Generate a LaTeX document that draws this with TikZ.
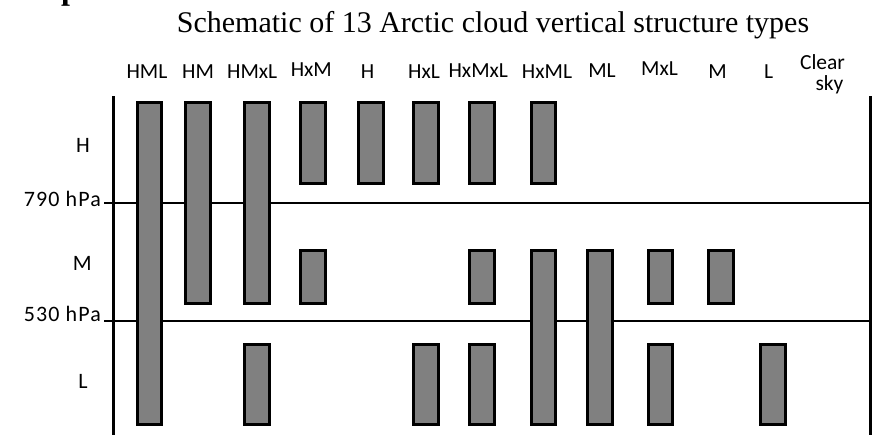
\documentclass[tikz,border=0pt]{standalone}
\usepackage{fontspec}
\setmainfont{Liberation Serif}
\newfontfamily\labelfont{Carlito}
\newfontfamily\levelfont[LetterSpace=5]{Carlito}
\definecolor{cloudgray}{HTML}{808080}

% one cloud layer: centre x, top y, bottom y
\newcommand\cloudbar[3]{\draw[cloud] ({#1-12.25},#2) rectangle ({#1+12.25},#3);}

\begin{document}
\begin{tikzpicture}[x=1pt,y=-1pt,
  cloud/.style={draw=black, line width=3pt, fill=cloudgray},
  axisline/.style={line width=3pt, line cap=rect},
  levelline/.style={line width=2.5pt},
  collabel/.style={font=\labelfont\fontsize{21.5}{21.5}\selectfont, anchor=base, inner sep=0pt},
  rowlabel/.style={font=\levelfont\fontsize{22}{22}\selectfont, inner sep=0pt},
  titletext/.style={font=\fontsize{30}{30}\selectfont, anchor=base, inner sep=0pt}]

\clip (0,0) rectangle (875,435);
\useasboundingbox (0,0) rectangle (875,435);

% panel letter, mostly above the page
\node[font=\bfseries\fontsize{32}{32}\selectfont, anchor=base west, inner sep=0pt] (panel) at (61,-0.5) {p};

% title
\node[titletext] (title) at (493,33) {Schematic of 13 Arctic cloud vertical structure types};

% column headings
\node[collabel] (tHML)   at (147,78.3)   {HML};
\node[collabel] (tHM)    at (198,78.3)   {HM};
\node[collabel] (tHMxL)  at (252.2,78.3) {HMxL};
\node[collabel] (tHxM)   at (311.3,76.7) {HxM};
\node[collabel] (tH)     at (367.5,78.3) {H};
\node[collabel] (tHxL)   at (424,79)     {HxL};
\node[collabel] (tHxMxL) at (478.3,77.7) {HxMxL};
\node[collabel] (tHxML)  at (547,79)     {HxML};
\node[collabel] (tML)    at (602,77.3)   {ML};
\node[collabel] (tMxL)   at (659.5,76)   {MxL};
\node[collabel] (tM)     at (717.5,78.3) {M};
\node[collabel] (tL)     at (768.7,79)   {L};
\node[collabel] (tClear) at (822.5,70)   {Clear};
\node[collabel] (tSky)   at (829.5,90.7) {sky};

% level names and pressure boundaries
\node[rowlabel] (rH) at (83,145)   {H};
\node[rowlabel] (rM) at (82.3,263.5) {M};
\node[rowlabel] (rL) at (83,381)   {L};
\node[rowlabel, anchor=base east] (p790) at (101,206.7) {790 hPa};
\node[rowlabel, anchor=base east] (p530) at (101,321.7) {530 hPa};

% frame and level boundaries
\draw[axisline] (113,98) -- (113,440);
\draw[axisline] (870,98) -- (870,440);
\draw[levelline] (104,203) -- (870,203);
\draw[levelline] (104,321) -- (870,321);

% cloud layers, column by column
% HML
\cloudbar{149.5}{102.2}{424.5}
% HM
\cloudbar{197.9}{102.2}{303.5}
% HMxL
\cloudbar{257.2}{102.2}{303.5}
\cloudbar{257.2}{344.2}{424.5}
% HxM
\cloudbar{312.9}{102.2}{183.5}
\cloudbar{312.9}{250.5}{303.5}
% H
\cloudbar{370.9}{102.2}{183.5}
% HxL
\cloudbar{426.2}{102.2}{183.5}
\cloudbar{426.2}{344.2}{424.5}
% HxMxL
\cloudbar{482.2}{102.2}{183.5}
\cloudbar{482.2}{250.5}{303.5}
\cloudbar{482.2}{344.2}{424.5}
% HxML
\cloudbar{543.5}{102.2}{183.5}
\cloudbar{543.5}{250.5}{424.5}
% ML
\cloudbar{600.2}{250.5}{424.5}
% MxL
\cloudbar{660.5}{250.5}{303.5}
\cloudbar{660.5}{344.2}{424.5}
% M
\cloudbar{720.9}{250.5}{303.5}
% L
\cloudbar{773.2}{344.2}{424.5}
\end{tikzpicture}
\end{document}
